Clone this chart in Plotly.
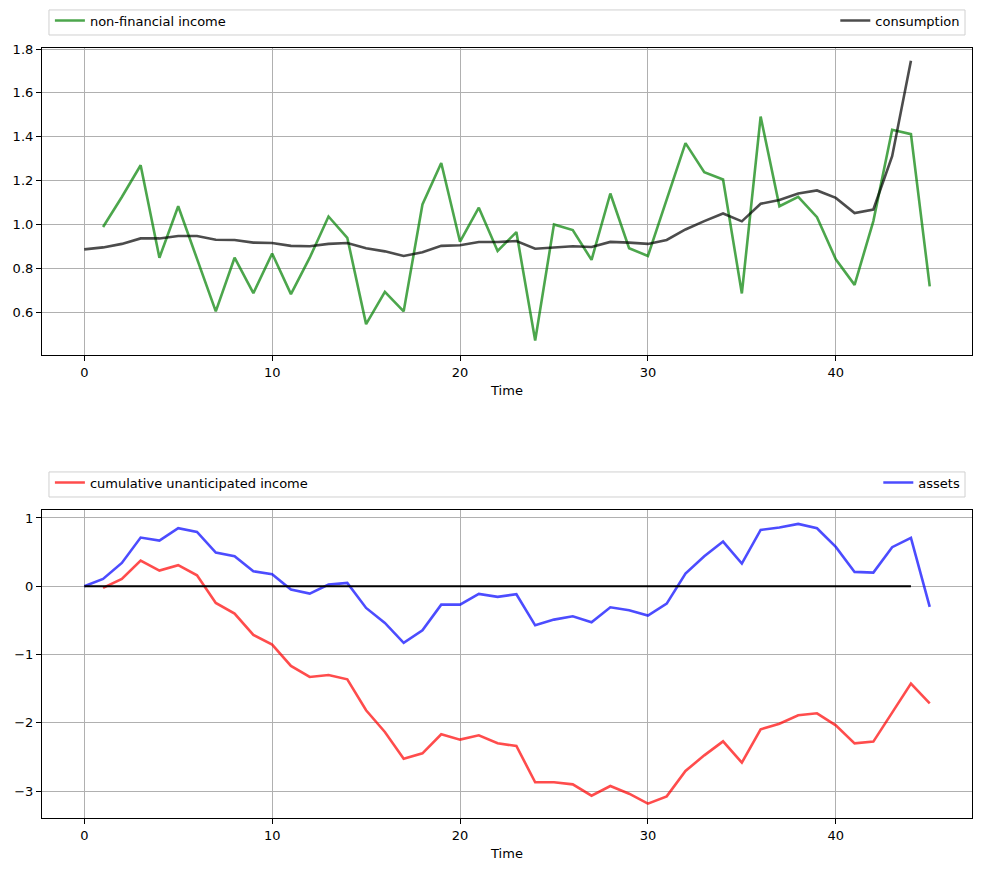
import plotly.graph_objects as go
from plotly.subplots import make_subplots

time_income = list(range(1, 46))
income = [0.988, 1.125, 1.27, 0.848, 1.083, 0.844, 0.603, 0.848, 0.686, 0.867,
          0.682, 0.848, 1.036, 0.939, 0.545, 0.692, 0.603, 1.091, 1.280, 0.921,
          1.076, 0.879, 0.965, 0.47, 1.0, 0.974, 0.838, 1.141, 0.891, 0.856,
          1.114, 1.371, 1.238, 1.205, 0.685, 1.492, 1.083, 1.126, 1.033, 0.841,
          0.724, 1.015, 1.432, 1.412, 0.717]

time_cons = list(range(0, 45))
consumption = [0.886, 0.895, 0.911, 0.936, 0.936, 0.947, 0.947, 0.930, 0.929, 0.917,
               0.915, 0.902, 0.900, 0.911, 0.915, 0.891, 0.877, 0.856, 0.873, 0.902,
               0.905, 0.920, 0.920, 0.924, 0.889, 0.895, 0.900, 0.897, 0.920, 0.917,
               0.911, 0.929, 0.977, 1.015, 1.05, 1.014, 1.094, 1.111, 1.141, 1.155,
               1.121, 1.052, 1.068, 1.311, 1.747]

time_cum = list(range(1, 46))
cum_unanticipated = [-0.024, 0.107, 0.376, 0.23, 0.308, 0.161, -0.244, -0.4, -0.713, -0.855,
                     -1.168, -1.329, -1.3, -1.363, -1.817, -2.135, -2.526, -2.448, -2.169, -2.247,
                     -2.184, -2.301, -2.34, -2.872, -2.872, -2.902, -3.068, -2.926, -3.039, -3.185,
                     -3.078, -2.706, -2.477, -2.272, -2.584, -2.096, -2.013, -1.891, -1.861, -2.037,
                     -2.301, -2.276, -1.851, -1.426, -1.715]

time_assets = list(range(0, 46))
assets = [0.0, 0.107, 0.342, 0.713, 0.669, 0.85, 0.796, 0.493, 0.44, 0.22,
          0.176, -0.049, -0.107, 0.024, 0.049, -0.318, -0.537, -0.83, -0.645, -0.269,
          -0.269, -0.112, -0.156, -0.117, -0.572, -0.489, -0.44, -0.528, -0.308, -0.352,
          -0.43, -0.254, 0.186, 0.44, 0.655, 0.332, 0.826, 0.86, 0.914, 0.85,
          0.576, 0.21, 0.2, 0.572, 0.708, -0.303]

zero_x = [0, 44]
zero_y = [0, 0]

top_yticks = [0.6, 0.8, 1.0, 1.2, 1.4, 1.6, 1.8]
bot_yticks = [-3, -2, -1, 0, 1]
bot_yticklabels = ["\u22123", "\u22122", "\u22121", "0", "1"]
xticks = [0, 10, 20, 30, 40]

FONT = "DejaVu Sans"
fig = make_subplots(rows=2, cols=1, vertical_spacing=0.0)

fig.add_trace(go.Scatter(x=time_income, y=income, mode="lines", name="non-financial income",
                         line=dict(color="rgba(0,128,0,0.7)", width=2.6), legend="legend"), row=1, col=1)
fig.add_trace(go.Scatter(x=time_cons, y=consumption, mode="lines", name="consumption",
                         line=dict(color="rgba(0,0,0,0.7)", width=2.6), legend="legend2"), row=1, col=1)
fig.add_trace(go.Scatter(x=time_cum, y=cum_unanticipated, mode="lines", name="cumulative unanticipated income",
                         line=dict(color="rgba(255,0,0,0.7)", width=2.6), legend="legend3"), row=2, col=1)
fig.add_trace(go.Scatter(x=time_assets, y=assets, mode="lines", name="assets",
                         line=dict(color="rgba(0,0,255,0.7)", width=2.6), legend="legend4"), row=2, col=1)
fig.add_trace(go.Scatter(x=zero_x, y=zero_y, mode="lines", showlegend=False,
                         line=dict(color="black", width=2)), row=2, col=1)

axis_common = dict(showline=True, linecolor="black", linewidth=1.2, mirror=True,
                   showgrid=True, gridcolor="#b0b0b0", gridwidth=1,
                   ticks="outside", ticklen=5, tickcolor="black",
                   tickfont=dict(family=FONT, size=13, color="black"), zeroline=False)

fig.update_xaxes(**axis_common, range=[-2.25, 47.25], tickvals=xticks,
                 title=dict(text="Time", font=dict(family=FONT, size=13, color="black"), standoff=7))
fig.update_yaxes(**axis_common)
fig.update_yaxes(range=[0.404, 1.805], tickvals=top_yticks, tickformat=".1f", row=1, col=1)
fig.update_yaxes(range=[-3.395, 1.117], tickvals=bot_yticks, ticktext=bot_yticklabels, row=2, col=1)

fig.update_layout(
    yaxis=dict(domain=[0.6013, 1.0]),
    yaxis2=dict(domain=[0.0, 0.4]),
)

lfont = dict(family=FONT, size=13, color="black")
leg_common = dict(font=lfont, bgcolor="rgba(0,0,0,0)", borderwidth=0, yanchor="middle",
                  itemwidth=30, tracegroupgap=0)
fig.update_layout(
    width=981, height=871,
    margin=dict(l=42, r=9, t=48, b=53, autoexpand=False),
    plot_bgcolor="white", paper_bgcolor="white",
    font=dict(family=FONT, size=13, color="black"),
    legend=dict(**leg_common, x=0.0085, xanchor="left", y=1.0357),
    legend2=dict(**leg_common, x=0.9928, xanchor="right", y=1.0357),
    legend3=dict(**leg_common, x=0.0085, xanchor="left", y=0.4357),
    legend4=dict(**leg_common, x=0.9928, xanchor="right", y=0.4357),
    shapes=[
        dict(type="rect", xref="paper", yref="paper", x0=0.0075, x1=0.9925, y0=1.0169, y1=1.0494,
             line=dict(color="#d0d0d0", width=1), fillcolor="rgba(255,255,255,0.8)", layer="below"),
        dict(type="rect", xref="paper", yref="paper", x0=0.0075, x1=0.9925, y0=0.4169, y1=0.4494,
             line=dict(color="#d0d0d0", width=1), fillcolor="rgba(255,255,255,0.8)", layer="below"),
    ],
)

fig.write_html("out.html")
